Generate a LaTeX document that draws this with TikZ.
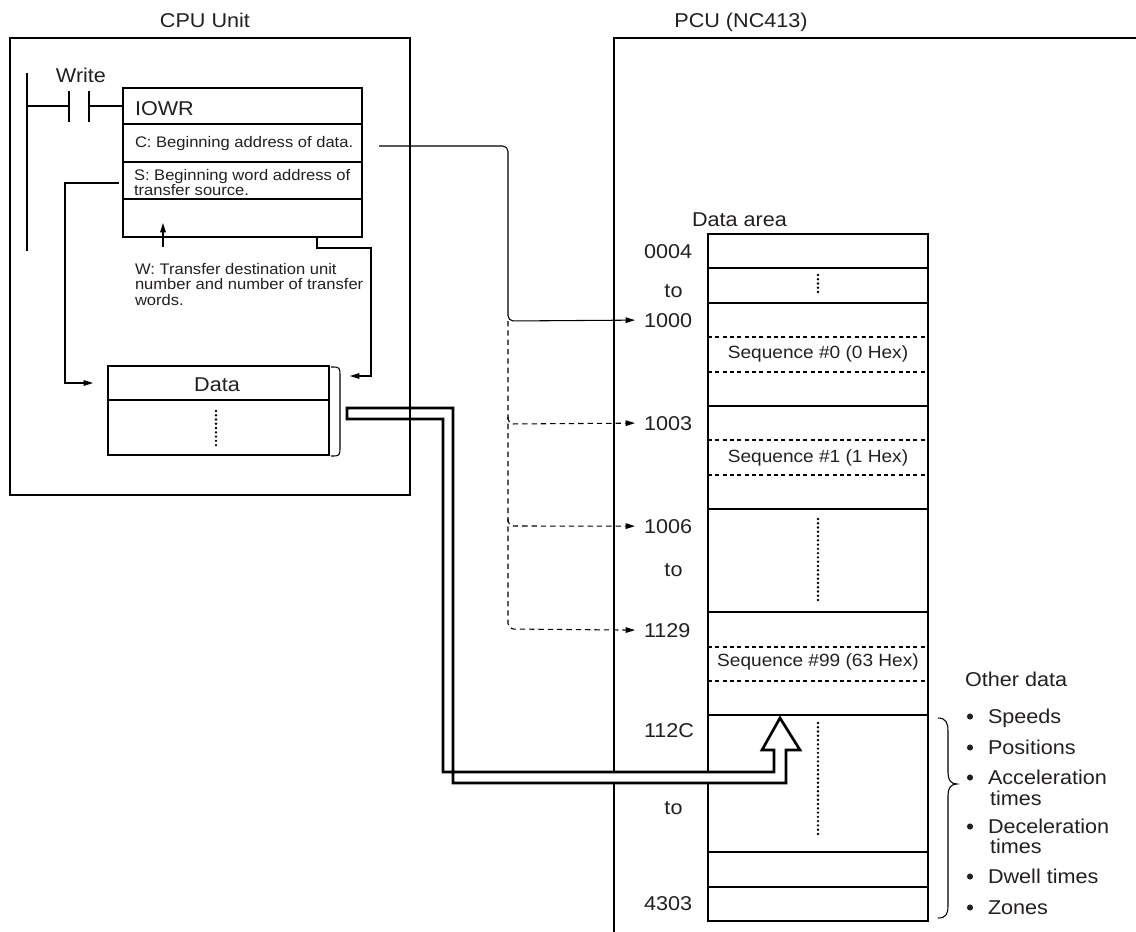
\documentclass[tikz,border=0pt]{standalone}
\usepackage{fontspec}
\setmainfont{Liberation Sans}[FakeStretch=1.08]
\usetikzlibrary{arrows.meta,calc}
\definecolor{ink}{HTML}{231F20}
\newcommand\fbig{\fontsize{15}{18}\selectfont}
\newcommand\fsmall{\fontsize{11.5}{13}\selectfont}
\newcommand\fseq{\fontsize{13.25}{16}\selectfont}
\begin{document}
\begin{tikzpicture}[x=0.75pt,y=-0.75pt,line width=0.8pt,
  every node/.style={inner sep=0pt,outer sep=0pt,text=ink},
  cell/.style={draw,line width=0.8pt,anchor=north west,minimum width=#1},
  big/.style={font=\fbig},
  small/.style={font=\fsmall},
  seq/.style={font=\fseq},
  addr/.style={font=\fbig,anchor=base west,inner xsep=6.75pt},
  bul/.style={circle,fill=ink,minimum size=4.6pt},
  arr/.style={-{Triangle[length=7pt,width=4.2pt]}},
  dsh/.style={dash pattern=on 3pt off 2.5pt},
  dsh2/.style={dash pattern=on 4pt off 3pt},
  dots/.style={line width=2pt,line cap=round,dash pattern=on 0pt off 3.2pt},
  hollow/.style={line width=2pt,fill=white,line join=miter}]
\useasboundingbox (0,0) rectangle (1136,932);

% ---------- titles ----------
\node[big,anchor=base] (tcpu) at (205,27) {CPU Unit};
\node[big,anchor=base] (tpcu) at (741,27) {PCU (NC413)};

% ---------- PCU frame ----------
\coordinate (pcuTR) at (1136,38);
\coordinate (pcuTL) at (614,38);
\coordinate (pcuBL) at (614,932);
\draw (pcuTR) -- (pcuTL) -- (pcuBL);

% ---------- data area ----------
\node[big,anchor=base west] (darea) at (692,226) {Data area};
\node[cell=165pt,minimum height=25.5pt]  (r1) at (708,234) {};
\node[cell=165pt,minimum height=26.25pt] (r2) at (708,268) {};
\node[cell=165pt,minimum height=77.25pt] (r3) at (708,303) {};
\node[cell=165pt,minimum height=77.25pt] (r4) at (708,406) {};
\node[cell=165pt,minimum height=77.25pt] (r5) at (708,509) {};
\node[cell=165pt,minimum height=77.25pt] (r6) at (708,612) {};
\node[cell=165pt,minimum height=102.75pt] (r7) at (708,715) {};
\node[cell=165pt,minimum height=26.25pt] (r8) at (708,852) {};
\node[cell=165pt,minimum height=25.5pt]  (r9) at (708,887) {};
\draw[dsh] (708,337) -- (928,337);
\draw[dsh] (708,372) -- (928,372);
\draw[dsh] (708,440) -- (928,440);
\draw[dsh] (708,475) -- (928,475);
\draw[dsh] (708,647) -- (928,647);
\draw[dsh] (708,681) -- (928,681);
\node[seq,anchor=base] (s0) at (818,358) {Sequence \#0 (0 Hex)};
\node[seq,anchor=base] (s1) at (818,462) {Sequence \#1 (1 Hex)};
\node[seq,anchor=base] (s99) at (818,666) {Sequence \#99 (63 Hex)};
\draw[dots] (818,275) -- (818,294);
\draw[dots] (818,519) -- (818,601);
\draw[dots] (818,723) -- (818,834);

% addresses
\node[addr] (a0004) at (635,258) {0004};
\node[big,anchor=base] (to1) at (673.5,297) {to};
\node[addr] (a1000) at (635,327) {1000};
\node[addr] (a1003) at (635,430) {1003};
\node[addr] (a1006) at (635,533) {1006};
\node[big,anchor=base] (to2) at (673.5,576) {to};
\node[addr] (a1129) at (635,637) {1129};
\node[addr] (a112C) at (635,737) {112C};
\node[big,anchor=base] (to3) at (673.5,814) {to};
\node[addr] (a4303) at (635,910) {4303};

% other data
\draw (938,718) .. controls (946,718) and (948,723) .. (948,731)
  -- (948,773) .. controls (948,780) and (951,784) .. (957,784)
  .. controls (951,784) and (948,788) .. (948,795)
  -- (948,906) .. controls (948,914) and (946,918) .. (938,918);
\node[big,anchor=base west] (other) at (965,686) {Other data};
\foreach \y/\t [count=\i] in {723/Speeds,754/Positions,784/Acceleration,833/Deceleration,883/Dwell times,914/Zones}{
  \node[bul] (b\i) at (970,\y-6.5) {};
  \node[big,anchor=base west] (it\i) at (988,\y) {\t};
}
\node[big,anchor=base west] (it3b) at (990,805) {times};
\node[big,anchor=base west] (it4b) at (990,853) {times};

% ---------- CPU internals ----------
% ladder
\coordinate (railT) at (27,73);
\coordinate (railB) at (27,251);
\draw (railT) -- (railB);
\draw (27,106) -- (69,106);
\draw (69,91) -- (69,122);
\draw (89,91) -- (89,122);
\node[big,anchor=base] (write) at (81,82) {Write};

% IOWR block
\node[cell=179.25pt,minimum height=27pt]   (iowr) at (123,88) {};
\node[cell=179.25pt,minimum height=28.5pt] (rowC) at (123,124) {};
\node[cell=179.25pt,minimum height=27.75pt] (rowS) at (123,162) {};
\node[cell=179.25pt,minimum height=28.5pt] (rowW) at (123,199) {};
\draw (89,106) -- (iowr.west);
\node[big,anchor=base west] (tiowr) at (135,115) {IOWR};
\node[small,anchor=base west] (tC) at (135,147) {C: Beginning address of data.};
\node[small,anchor=base west] (tS1) at (134,180) {S: Beginning word address of};
\node[small,anchor=base west] (tS2) at (134,195) {transfer source.};
\node[small,anchor=base west] (tW1) at (135,274) {W: Transfer destination unit};
\node[small,anchor=base west] (tW2) at (135,289) {number and number of transfer};
\node[small,anchor=base west] (tW3) at (135,305) {words.};
\coordinate (wfoot) at (163,247);
\coordinate (wtip) at (163,223);
\draw[arr] (wfoot) -- (wtip);

% Data block
\node[cell=165.75pt,minimum height=25.5pt] (data) at (108,366) {};
\node[cell=165.75pt,minimum height=41.25pt] (databody) at (108,400) {};
\node[big,anchor=base] (tdata) at (217,391) {Data};
\draw[dots] (216,411) -- (216,449);
\draw (331,367) .. controls (340,367) .. (340,377) -- (340,446) .. controls (340,456) .. (331,456);

% connectors
\coordinate (dtipL) at (93,383);
\coordinate (dtipR) at (350,376);
\draw[arr] ([shift={(-4,2.5)}]rowS.west) -| (65,383) -- (dtipL);
\draw[arr] (rowW.south -| 317,0) -- (317,248) -| (371,376) -- (dtipR);
\draw[rounded corners=4pt,arr] ([shift={(17,3)}]rowC.east) -- (508,146) -- (508,321) -- (a1000.west);
\draw[dsh2,rounded corners=4pt,arr] (508,321) -- (508,629) -- (a1129.west);
\draw[dsh2,rounded corners=4pt,arr] (508,417) -- (508,424) -- (a1003.west);
\draw[dsh2,rounded corners=4pt,arr] (508,519) -- (508,526) -- (a1006.west);

% hollow transfer arrow
\draw[hollow] (347,408) -- (453,408) -- (453,783) -- (786,783) -- (786,750)
  -- (800,750) -- (780,718) -- (762,750) -- (774,750) -- (774,772)
  -- (443,772) -- (443,419) -- (347,419) -- cycle;

% CPU frame on top
\node[cell=300pt,minimum height=342.75pt] (cpu) at (10,38) {};
\end{tikzpicture}
\end{document}
